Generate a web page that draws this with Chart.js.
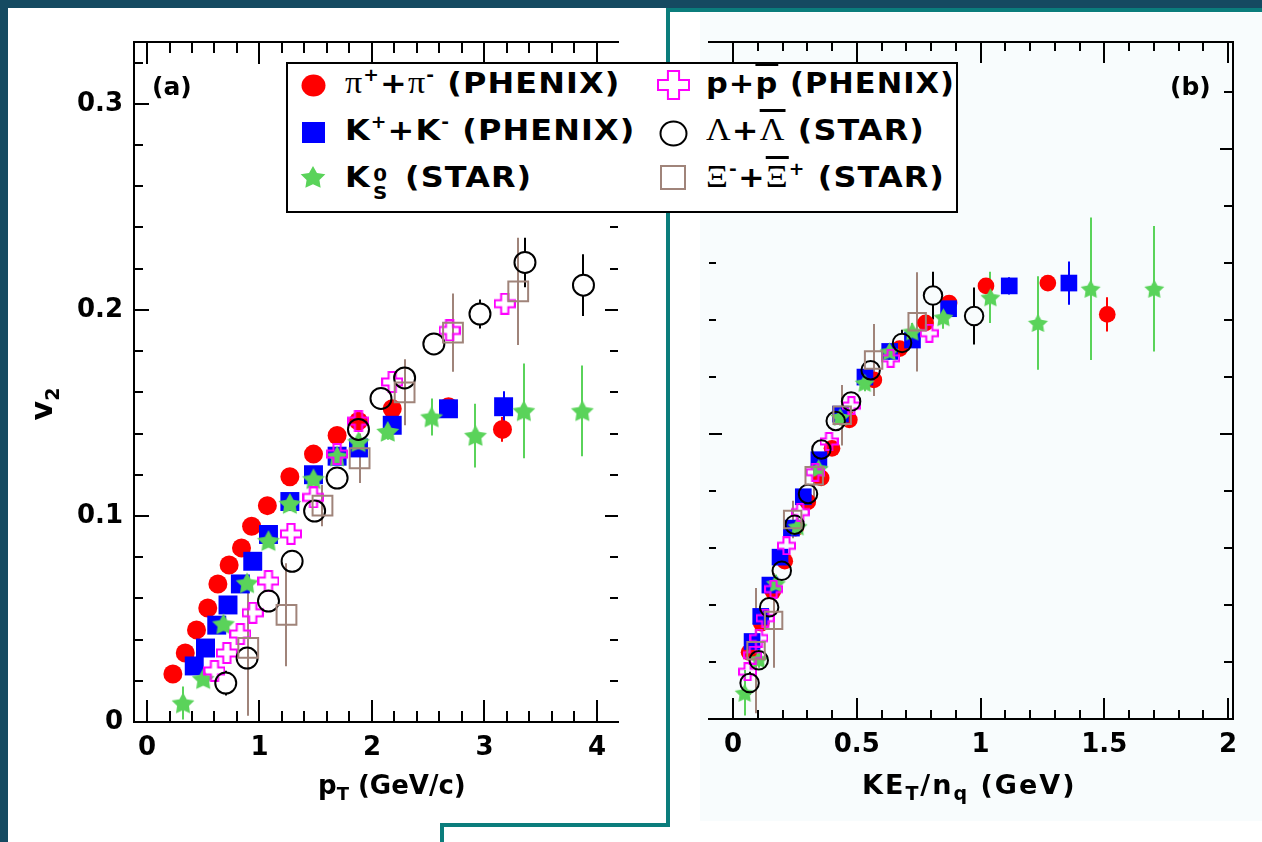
<!DOCTYPE html>
<html>
<head>
<meta charset="utf-8">
<script src="https://cdn.jsdelivr.net/npm/chart.js@4.4.1/dist/chart.umd.min.js"></script>
<style>
html, body { margin: 0; padding: 0; }
body { width: 1262px; height: 842px; position: relative; overflow: hidden; background: #fff;
       font-family: "DejaVu Sans", sans-serif; font-weight: bold; color: #000; }
.abs { position: absolute; }
.dark { position: absolute; background: #154a61; }
.teal { position: absolute; background: #0b7d7c; }
.txt { position: absolute; white-space: nowrap; font-size: 26px; line-height: 30px; }
.greek { font-family: "Liberation Serif", serif; font-weight: normal; font-size: 31px; }
.sup { font-size: 17px; position: relative; top: -12px; }
.over { text-decoration: overline; text-decoration-thickness: 3px; }
#legend { position: absolute; left: 286px; top: 62px; width: 668px; height: 147px; background: #fff;
          border: 2px solid #000; z-index: 5; }
.lg { position: absolute; white-space: nowrap; font-size: 29px; line-height: 36px; letter-spacing: 1px;
      transform-origin: 0 50%; }
</style>
</head>
<body>
<div class="dark" style="left:0;top:0;width:1262px;height:8px"></div>
<div class="dark" style="left:0;top:0;width:8px;height:842px"></div>
<div class="abs" style="left:700px;top:13px;width:562px;height:808px;background:#f8fcfd"></div>
<div class="teal" style="left:666px;top:8px;width:596px;height:4px"></div>
<div class="teal" style="left:666px;top:8px;width:4px;height:819px"></div>
<div class="teal" style="left:440px;top:823px;width:230px;height:4px"></div>
<div class="teal" style="left:440px;top:823px;width:4px;height:19px"></div>

<canvas id="chartA" class="abs" width="680" height="842" style="left:0;top:0;width:680px;height:842px"></canvas>
<canvas id="chartB" class="abs" width="582" height="842" style="left:680px;top:0;width:582px;height:842px"></canvas>

<div class="txt" style="left:152px;top:72px;font-size:25px">(a)</div>
<div class="txt" style="left:1170px;top:72px;font-size:25px">(b)</div>
<div class="txt" style="left:318px;top:770px">p<sub style="font-size:18px">T</sub> (GeV/c)</div>
<div class="txt" style="left:862px;top:770px;font-size:27px;letter-spacing:2px">KE<sub style="font-size:19px">T</sub>/n<sub style="font-size:19px">q</sub> (GeV)</div>
<div class="txt" style="left:22px;top:384px;width:50px;text-align:center;font-size:30px;transform:rotate(-90deg)">v<sub style="font-size:19px">2</sub></div>

<div id="legend"></div>

<script>
// ---- panel (a) : v2 vs pT ----
const piPt  = [0.23, 0.34, 0.44, 0.54, 0.63, 0.73, 0.84, 0.93, 1.07, 1.27, 1.48, 1.69, 1.88, 2.18, 2.68, 3.16];
const piV2  = [0.0233, 0.0335, 0.0447, 0.0553, 0.067, 0.0762, 0.0845, 0.095, 0.105, 0.119, 0.130, 0.139, 0.146, 0.152, 0.153, 0.142];
const piErr = [0, 0, 0, 0, 0, 0, 0, 0, 0, 0, 0, 0, 0, 0.002, 0.002, 0.006];

const kPt  = [0.42, 0.52, 0.62, 0.72, 0.83, 0.94, 1.08, 1.27, 1.48, 1.69, 1.88, 2.18, 2.68, 3.17];
const kV2  = [0.0272, 0.0359, 0.047, 0.0568, 0.067, 0.078, 0.091, 0.107, 0.120, 0.129, 0.133, 0.144, 0.152, 0.153];
const kErr = [0, 0, 0, 0, 0, 0, 0, 0, 0, 0, 0, 0.002, 0.003, 0.0075];

const k0Pt  = [0.32, 0.50, 0.68, 0.89, 1.08, 1.27, 1.48, 1.69, 1.88, 2.14, 2.53, 2.92, 3.35, 3.87];
const k0V2  = [0.0092, 0.021, 0.0476, 0.0675, 0.088, 0.106, 0.118, 0.129, 0.136, 0.141, 0.148, 0.139, 0.151, 0.151];
const k0Err = [0.008, 0.003, 0.003, 0.003, 0.003, 0.003, 0.003, 0.003, 0.003, 0.004, 0.009, 0.0155, 0.023, 0.022];

const pPt  = [0.60, 0.71, 0.83, 0.94, 1.08, 1.28, 1.48, 1.69, 1.88, 2.18, 2.69, 3.18];
const pV2  = [0.0248, 0.0335, 0.0427, 0.053, 0.0684, 0.0913, 0.109, 0.130, 0.146, 0.165, 0.190, 0.203];
const pErr = [0, 0, 0, 0, 0, 0, 0, 0, 0, 0.002, 0.003, 0.004];

const lamPt  = [0.70, 0.89, 1.08, 1.29, 1.49, 1.69, 1.88, 2.08, 2.29, 2.55, 2.96, 3.36, 3.88];
const lamV2  = [0.0189, 0.031, 0.0587, 0.078, 0.1024, 0.1184, 0.142, 0.157, 0.167, 0.1835, 0.198, 0.223, 0.212];
const lamErr = [0.006, 0.003, 0.003, 0.003, 0.003, 0.003, 0.003, 0.003, 0.003, 0.004, 0.007, 0.012, 0.015];

const xiPt  = [0.90, 1.24, 1.56, 1.89, 2.29, 2.72, 3.30];
const xiV2  = [0.036, 0.052, 0.105, 0.128, 0.160, 0.189, 0.209];
const xiErr = [0.033, 0.025, 0.010, 0.012, 0.016, 0.019, 0.026];

// ---- panel (b) : v2/nq vs KET/nq ----
const piKe    = [0.065, 0.114, 0.161, 0.209, 0.253, 0.302, 0.356, 0.400, 0.470, 0.569, 0.673, 0.778, 0.873, 1.022, 1.272, 1.512];
const piV2nq  = [0.0117, 0.0168, 0.0224, 0.0277, 0.0335, 0.0381, 0.0423, 0.0475, 0.0525, 0.0595, 0.0650, 0.0695, 0.0730, 0.0760, 0.0765, 0.0710];
const piErrNq = [0, 0, 0, 0, 0, 0, 0, 0, 0, 0, 0, 0, 0, 0.001, 0.001, 0.003];

const kKe    = [0.077, 0.112, 0.149, 0.190, 0.236, 0.284, 0.347, 0.434, 0.533, 0.633, 0.725, 0.871, 1.116, 1.357];
const kV2nq  = [0.0136, 0.0180, 0.0235, 0.0284, 0.0335, 0.0390, 0.0455, 0.0535, 0.0600, 0.0645, 0.0665, 0.0720, 0.0760, 0.0765];
const kErrNq = [0, 0, 0, 0, 0, 0, 0, 0, 0, 0, 0, 0.001, 0.0015, 0.0038];

const k0Ke    = [0.047, 0.104, 0.173, 0.261, 0.346, 0.433, 0.532, 0.632, 0.724, 0.850, 1.040, 1.232, 1.445, 1.702];
const k0V2nq  = [0.0046, 0.0105, 0.0238, 0.0338, 0.0440, 0.0530, 0.0590, 0.0645, 0.0680, 0.0705, 0.0740, 0.0695, 0.0755, 0.0755];
const k0ErrNq = [0.004, 0.0015, 0.0015, 0.0015, 0.0015, 0.0015, 0.0015, 0.0015, 0.0015, 0.002, 0.0045, 0.0082, 0.0125, 0.011];

const pKe    = [0.059, 0.080, 0.105, 0.130, 0.164, 0.216, 0.271, 0.332, 0.388, 0.478, 0.637, 0.793];
const pV2nq  = [0.0083, 0.0112, 0.0142, 0.0177, 0.0228, 0.0304, 0.0363, 0.0433, 0.0487, 0.0550, 0.0633, 0.0677];
const pErrNq = [0, 0, 0, 0, 0, 0, 0, 0, 0, 0, 0.001, 0.0013];

const lamKe    = [0.067, 0.104, 0.146, 0.197, 0.249, 0.303, 0.357, 0.415, 0.477, 0.556, 0.683, 0.808, 0.974];
const lamV2nq  = [0.0063, 0.0103, 0.0196, 0.0260, 0.0341, 0.0395, 0.0473, 0.0523, 0.0557, 0.0612, 0.0660, 0.0743, 0.0707];
const lamErrNq = [0.002, 0.001, 0.001, 0.001, 0.001, 0.001, 0.001, 0.001, 0.001, 0.0013, 0.0023, 0.0042, 0.005];

const xiKe    = [0.093, 0.164, 0.241, 0.328, 0.441, 0.568, 0.744];
const xiV2nq  = [0.0120, 0.0173, 0.0350, 0.0427, 0.0533, 0.0630, 0.0697];
const xiErrNq = [0.011, 0.0083, 0.0033, 0.004, 0.0053, 0.0063, 0.0087];

// ---- axes ----
const xLabelsA = [0, 1, 2, 3, 4];
const yLabelsA = [0, 0.1, 0.2, 0.3];
const xLabelsB = [0, 0.5, 1, 1.5, 2];
const yMajorB  = [0.05, 0.1];

const RED = '#ff0000', BLUE = '#0000ff', GREEN = '#5ad35a', MAGENTA = '#ff00ff', BLACK = '#000000', BROWN = '#a0847a';

function steps(from, to, step) {
    const out = [];
    for (let v = from; v <= to + 1e-9; v += step) out.push(Math.round(v * 1000) / 1000);
    return out;
}

function pts(xs, ys) {
    return xs.map((v, i) => ({ x: v, y: ys[i] }));
}

// petits dessins de marqueurs (étoile pleine, croix creuse, etc.)
function makeMarker(kind, w, h) {
    h = h || w;
    const c = document.createElement('canvas');
    c.width = w; c.height = h;
    const g = c.getContext('2d');
    const cx = w / 2, cy = h / 2, rx = w / 2 - 1, ry = h / 2 - 1;
    g.lineWidth = 2;
    g.beginPath();
    if (kind === 'circle') {
        g.ellipse(cx, cy, rx + 0.5, ry + 0.5, 0, 0, Math.PI * 2);
        g.fillStyle = RED; g.fill();
    } else if (kind === 'square') {
        g.fillStyle = BLUE; g.fillRect(1, 1, w - 2, h - 2);
    } else if (kind === 'star') {
        for (let i = 0; i < 10; i++) {
            const a = -Math.PI / 2 + i * Math.PI / 5;
            const r = i % 2 === 0 ? 1 : 0.52;
            const px = cx + Math.cos(a) * rx * r, py = cy + 1 + Math.sin(a) * ry * r;
            if (i === 0) g.moveTo(px, py); else g.lineTo(px, py);
        }
        g.closePath();
        g.fillStyle = GREEN; g.fill();
    } else if (kind === 'cross') {
        const ax = rx * 0.36, ay = ry * 0.36;
        const p = [[-ax, -ry], [ax, -ry], [ax, -ay], [rx, -ay], [rx, ay], [ax, ay],
                   [ax, ry], [-ax, ry], [-ax, ay], [-rx, ay], [-rx, -ay], [-ax, -ay]];
        p.forEach(([dx, dy], i) => i ? g.lineTo(cx + dx, cy + dy) : g.moveTo(cx + dx, cy + dy));
        g.closePath();
        g.strokeStyle = MAGENTA; g.stroke();
    } else if (kind === 'ring') {
        g.ellipse(cx, cy, rx - 0.5, ry - 0.5, 0, 0, Math.PI * 2);
        g.strokeStyle = BLACK; g.stroke();
    } else if (kind === 'box') {
        g.strokeStyle = BROWN; g.strokeRect(2, 2, w - 4, h - 4);
    }
    return c;
}

// barres d'erreur verticales, dessinées sous les marqueurs
const errorBars = {
    id: 'errorBars',
    beforeDatasetsDraw(chart) {
        const { ctx, chartArea: a, scales: { x, y } } = chart;
        ctx.save();
        ctx.beginPath();
        ctx.rect(a.left, a.top, a.right - a.left, a.bottom - a.top);
        ctx.clip();
        ctx.lineWidth = 2;
        chart.data.datasets.forEach(ds => {
            if (!ds.errors) return;
            ctx.strokeStyle = ds.errorColor;
            ds.data.forEach((p, i) => {
                const e = ds.errors[i];
                if (!e) return;
                const px = Math.round(x.getPixelForValue(p.x));
                const mid = y.getPixelForValue(p.y);
                const top = y.getPixelForValue(p.y + e), bot = y.getPixelForValue(p.y - e);
                const gap = ds.errorGap || 0;
                ctx.beginPath();
                if (top < mid - gap) { ctx.moveTo(px, top); ctx.lineTo(px, mid - gap); }
                if (bot > mid + gap) { ctx.moveTo(px, mid + gap); ctx.lineTo(px, bot); }
                ctx.stroke();
            });
        });
        ctx.restore();
    }
};

// cadre et graduations vers l'intérieur (style ROOT)
const frameTicks = {
    id: 'frameTicks',
    afterDraw(chart, args, o) {
        const { ctx, chartArea: a, scales: { x, y } } = chart;
        ctx.save();
        ctx.strokeStyle = '#000';
        ctx.lineWidth = 2;
        ctx.beginPath();
        o.lines.forEach(side => {
            if (side === 'bottom') { ctx.moveTo(a.left - 1, a.bottom); ctx.lineTo(a.right + 1, a.bottom); }
            if (side === 'top') { ctx.moveTo(a.left - 1, a.top); ctx.lineTo(a.right + 1, a.top); }
            if (side === 'left') { ctx.moveTo(a.left, a.top); ctx.lineTo(a.left, a.bottom); }
            if (side === 'right') { ctx.moveTo(a.right, a.top); ctx.lineTo(a.right, a.bottom); }
        });
        const drawX = (list, k) => list.forEach(v => {
            const px = Math.round(x.getPixelForValue(v));
            if (px < a.left || px > a.right) return;
            if (o.len.bottom) { ctx.moveTo(px, a.bottom); ctx.lineTo(px, a.bottom - o.len.bottom[k]); }
            if (o.len.top) { ctx.moveTo(px, a.top); ctx.lineTo(px, a.top + o.len.top[k]); }
        });
        const drawY = (list, k) => list.forEach(v => {
            const py = Math.round(y.getPixelForValue(v));
            if (py < a.top || py > a.bottom) return;
            if (o.len.left) { ctx.moveTo(a.left, py); ctx.lineTo(a.left + o.len.left[k], py); }
            if (o.len.right) { ctx.moveTo(a.right, py); ctx.lineTo(a.right - o.len.right[k], py); }
        });
        drawX(o.xMinor, 1); drawX(o.xMajor, 0);
        drawY(o.yMinor, 1); drawY(o.yMajor, 0);
        ctx.stroke();
        ctx.restore();
    }
};

const tickFont = { family: 'DejaVu Sans', size: 26, weight: 'bold' };

function makeChart(id, datasets, cfg) {
    return new Chart(document.getElementById(id), {
        type: 'scatter',
        data: { datasets: datasets },
        options: {
            responsive: false,
            animation: false,
            events: [],
            layout: { padding: cfg.padding, autoPadding: false },
            plugins: {
                legend: { display: false },
                tooltip: { enabled: false },
                frameTicks: cfg.frame
            },
            scales: {
                x: {
                    type: 'linear', min: cfg.xMin, max: cfg.xMax,
                    grid: { display: false, drawTicks: false }, border: { display: false },
                    afterFit: s => { s.height = cfg.xHeight; },
                    afterBuildTicks: s => { s.ticks = cfg.xLabels.map(v => ({ value: v })); },
                    ticks: { font: tickFont, color: '#000', padding: 11, maxRotation: 0, autoSkip: false,
                             callback: v => String(v) }
                },
                y: {
                    type: 'linear', min: cfg.yMin, max: cfg.yMax,
                    grid: { display: false, drawTicks: false }, border: { display: false },
                    afterFit: s => { s.width = cfg.yWidth; },
                    afterBuildTicks: s => { s.ticks = cfg.yLabels.map(v => ({ value: v })); },
                    ticks: { display: cfg.yLabels.length > 0, font: tickFont, color: '#000', padding: 11,
                             callback: v => String(v) }
                }
            }
        },
        plugins: [errorBars, frameTicks]
    });
}

function buildSets(big) {
    const s = big ? 1 : 0.88;
    const star = makeMarker('star', Math.round(26 * s), Math.round(25 * s));
    const cross = makeMarker('cross', Math.round(22 * s), Math.round(22 * s));
    return [
        { data: null, order: 6, pointStyle: 'circle', radius: 9.5 * s, backgroundColor: RED, borderColor: RED, borderWidth: 0,
          errorColor: RED },
        { data: null, order: 5, pointStyle: 'rect', radius: 13.4 * s, backgroundColor: BLUE, borderColor: BLUE, borderWidth: 0,
          errorColor: BLUE },
        { data: null, order: 4, pointStyle: star, errorColor: GREEN },
        { data: null, order: 3, pointStyle: cross, errorColor: MAGENTA, errorGap: 10 * s },
        { data: null, order: 2, pointStyle: 'circle', radius: 10.5 * s, backgroundColor: 'rgba(0,0,0,0)', borderColor: BLACK,
          borderWidth: 2, errorColor: BLACK, errorGap: 10.5 * s },
        { data: null, order: 1, pointStyle: 'rect', radius: 14 * s, backgroundColor: 'rgba(0,0,0,0)', borderColor: BROWN,
          borderWidth: 2, errorColor: BROWN }
    ];
}

const setsA = buildSets(true);
[[piPt, piV2, piErr], [kPt, kV2, kErr], [k0Pt, k0V2, k0Err], [pPt, pV2, pErr], [lamPt, lamV2, lamErr], [xiPt, xiV2, xiErr]]
    .forEach(([xs, ys, es], i) => { setsA[i].data = pts(xs, ys); setsA[i].errors = es; });

const setsB = buildSets(false);
[[piKe, piV2nq, piErrNq], [kKe, kV2nq, kErrNq], [k0Ke, k0V2nq, k0ErrNq], [pKe, pV2nq, pErrNq], [lamKe, lamV2nq, lamErrNq], [xiKe, xiV2nq, xiErrNq]]
    .forEach(([xs, ys, es], i) => { setsB[i].data = pts(xs, ys); setsB[i].errors = es; });

makeChart('chartA', setsA, {
    padding: { left: 0, right: 62, top: 42, bottom: 0 },
    xMin: -0.1156, xMax: 4.187, yMin: 0, yMax: 0.33,
    xHeight: 120, yWidth: 134,
    xLabels: xLabelsA, yLabels: yLabelsA,
    frame: {
        lines: ['bottom', 'top', 'left'],
        xMajor: xLabelsA, xMinor: steps(0, 4.2, 0.2),
        yMajor: yLabelsA, yMinor: steps(0, 0.34, 0.02),
        len: { bottom: [22, 11], top: [22, 11], left: [15, 9], right: [13, 8] }
    }
});

makeChart('chartB', setsB, {
    padding: { left: 0, right: 29, top: 42, bottom: 0 },
    xMin: -0.097, xMax: 2.02, yMin: 0, yMax: 0.1188,
    xHeight: 123, yWidth: 29,
    xLabels: xLabelsB, yLabels: [],
    frame: {
        lines: ['bottom', 'top', 'right'],
        xMajor: xLabelsB, xMinor: steps(0, 2, 0.1),
        yMajor: yMajorB, yMinor: steps(0, 0.12, 0.01),
        len: { bottom: [21, 9], top: [21, 9], left: [13, 7], right: [13, 9] }
    }
});

// ---- légende ----
const legendRows = [
    { kind: 'circle', w: 25, h: 23, cx: 313, cy: 85, left: 345, top: 65, sx: 1.1,
      html: '<span class="greek">π</span><span class="sup">+</span>+<span class="greek">π</span><span class="sup">-</span> (PHENIX)' },
    { kind: 'square', w: 25, h: 23, cx: 313, cy: 132, left: 345, top: 112, sx: 1.1,
      html: 'K<span class="sup">+</span>+K<span class="sup">-</span> (PHENIX)' },
    { kind: 'star', w: 28, h: 26, cx: 313, cy: 177, left: 345, top: 159, sx: 1.1,
      html: 'K<span style="display:inline-block;vertical-align:-12px;line-height:18px;font-size:18px;text-align:center;margin:0 4px 0 2px">0<br>S</span> (STAR)' },
    { kind: 'cross', w: 33, h: 30, cx: 673, cy: 85, left: 706, top: 65, sx: 1.05,
      html: 'p+<span class="over">p</span> (PHENIX)' },
    { kind: 'ring', w: 29, h: 27, cx: 673, cy: 133, left: 706, top: 112, sx: 1.1,
      html: '<span class="greek">Λ</span>+<span class="greek over">Λ</span> (STAR)' },
    { kind: 'box', w: 28, h: 27, cx: 673, cy: 177, left: 706, top: 159, sx: 1.1,
      html: '<span class="greek">Ξ</span><span class="sup">-</span>+<span class="greek over">Ξ</span><span class="sup">+</span> (STAR)' }
];

const legend = document.getElementById('legend');
const L0 = 288, T0 = 64; // coin intérieur de la boîte
legendRows.forEach(r => {
    const m = makeMarker(r.kind, r.w, r.h);
    m.className = 'abs';
    m.style.left = (r.cx - r.w / 2 - L0) + 'px';
    m.style.top = (r.cy - r.h / 2 - T0) + 'px';
    legend.appendChild(m);
    const t = document.createElement('div');
    t.className = 'lg';
    t.style.left = (r.left - L0) + 'px';
    t.style.top = (r.top - T0) + 'px';
    t.style.transform = 'scaleX(' + r.sx + ')';
    t.innerHTML = r.html;
    legend.appendChild(t);
});
</script>
</body>
</html>
